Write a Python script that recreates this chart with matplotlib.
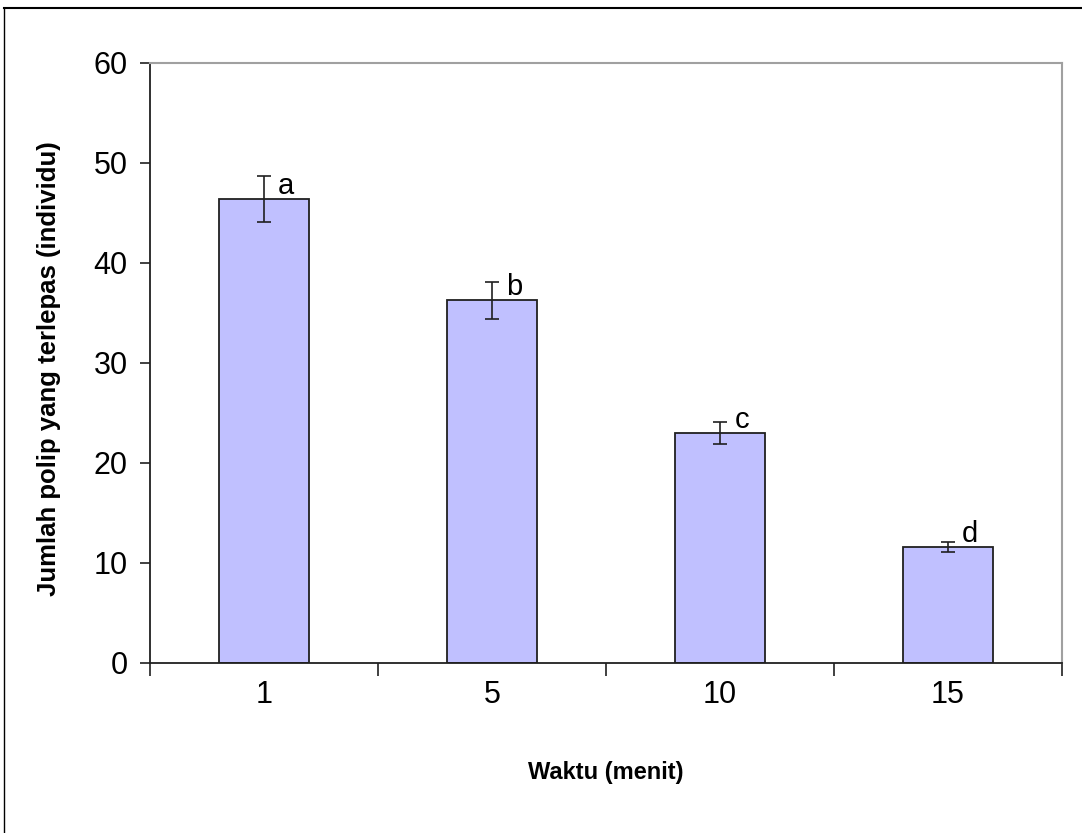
import matplotlib
matplotlib.use("Agg")
import matplotlib.pyplot as plt
from matplotlib.lines import Line2D

categories = ["1", "5", "10", "15"]
means = [46.4, 36.3, 23.0, 11.6]
errors = [2.3, 1.85, 1.1, 0.5]
letters = ["a", "b", "c", "d"]

plt.rcParams['font.family'] = ['Liberation Sans', 'DejaVu Sans']

fig = plt.figure(figsize=(10.82, 8.33), dpi=100)
ax = fig.add_axes([150/1082, 1 - 663/833, 912/1082, 600/833])

xs = list(range(len(categories)))
ax.bar(xs, means, width=0.395, color="#C0C0FF", edgecolor="#202020", linewidth=1.3, zorder=2)
ax.errorbar(xs, means, yerr=errors, fmt="none", ecolor="#202020", elinewidth=1.2,
            capsize=4.8, capthick=1.2, zorder=3)
for x, m, lab in zip(xs, means, letters):
    ax.annotate(lab, (x, m), xytext=(22, 13), textcoords="offset pixels",
                ha="center", va="center", fontsize=21, zorder=4)

ax.set_xlim(-0.5, len(categories) - 0.5)
ax.set_ylim(0, 60)
ax.set_yticks(range(0, 61, 10))
ax.tick_params(axis="y", direction="out", length=7, width=1.2, pad=9, labelsize=22, color="#202020")

ax.set_xticks([i - 0.5 for i in range(len(categories) + 1)])
ax.set_xticklabels([])
ax.tick_params(axis="x", which="major", direction="out", length=9, width=1.2, color="#202020")
ax.set_xticks(xs, minor=True)
ax.set_xticklabels(categories, minor=True)
ax.tick_params(axis="x", which="minor", length=0, pad=12, labelsize=22)

for s in ["left", "bottom"]:
    ax.spines[s].set_color("#202020")
    ax.spines[s].set_linewidth(1.3)
for s in ["top", "right"]:
    ax.spines[s].set_color("#A0A0A0")
    ax.spines[s].set_linewidth(1.5)

ax.set_ylabel("Jumlah polip yang terlepas (individu)", fontsize=18.5, fontweight="bold")
ax.yaxis.set_label_coords(-0.098, 0.49)
ax.set_xlabel("Waktu (menit)", fontsize=17, fontweight="bold")
ax.xaxis.set_label_coords(0.5, -0.163)

fig.add_artist(Line2D([4/1082, 1], [1 - 8/833, 1 - 8/833], transform=fig.transFigure, color="black", linewidth=1.5))
fig.add_artist(Line2D([4/1082, 4/1082], [0, 1 - 8/833], transform=fig.transFigure, color="black", linewidth=1.0))

fig.savefig("out.png", dpi=100)
